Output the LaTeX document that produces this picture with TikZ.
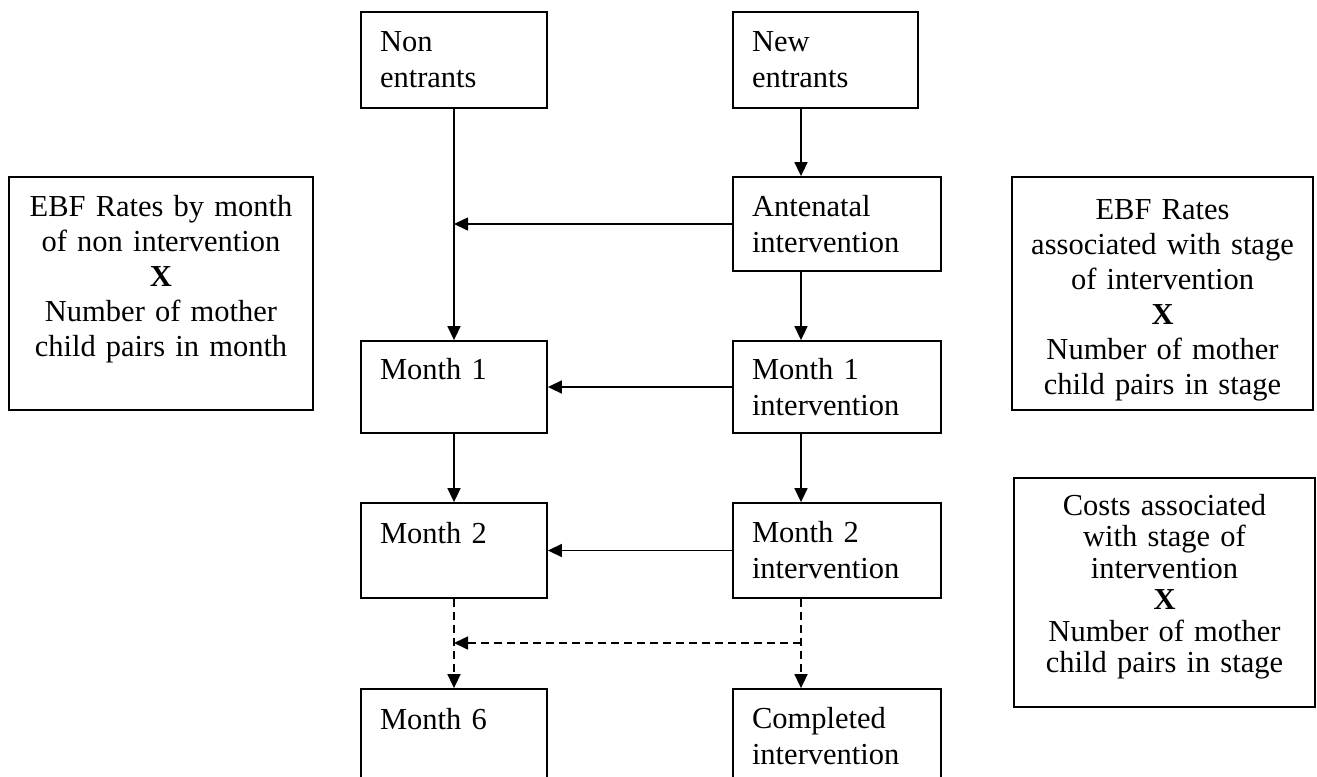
\documentclass[tikz,border=0pt]{standalone}
\usepackage{fontspec}
\setmainfont{Liberation Serif}
\usetikzlibrary{arrows.meta}
\begin{document}
\begin{tikzpicture}[x=1bp,y=-1bp,
  box/.style={draw, line width=1.8bp, inner ysep=0pt, inner xsep=19bp, align=left,
    font=\fontsize{30.5bp}{36bp}\selectfont},
  side/.style={draw, line width=1.8bp, inner sep=0pt, align=center, text width=290bp},
  arr/.style={line width=1.6bp, -{Triangle[length=14bp,width=13bp]}},
  dsh/.style={arr, dash pattern=on 8bp off 5bp}]
\fill[white] (0,0) rectangle (1317,776);
\useasboundingbox (0,0) rectangle (1317,776);

% left column
\node[box, text width=148bp, minimum height=96bp] (non) at (454,60) {Non\\entrants};
\node[box, text width=148bp, minimum height=92bp] (m1) at (454,387) {Month 1\\\mbox{}};
\node[box, text width=148bp, minimum height=95bp] (m2) at (454,550.5) {Month 2\\\mbox{}};
\node[box, text width=148bp, minimum height=95bp] (m6) at (454,736.5) {Month 6\\\mbox{}};

% right column
\node[box, text width=147bp, minimum height=96bp] (new) at (825.5,60) {New\\entrants};
\node[box, text width=170bp, minimum height=94bp] (ante) at (837,224) {Antenatal\\intervention};
\node[box, text width=170bp, minimum height=92bp] (m1i) at (837,387) {Month 1\\intervention};
\node[box, text width=170bp, minimum height=95bp] (m2i) at (837,550.5) {Month 2\\intervention};
\node[box, text width=170bp, minimum height=95bp] (comp) at (837,736.5) {Completed\\intervention};

% side boxes
\node[side, minimum width=304bp, minimum height=233bp, font=\fontsize{30.5bp}{35bp}\selectfont]
  (ebfl) at (161,293.5)
  {EBF Rates by month\\of non intervention\\\textbf{X}\\Number of mother\\child pairs in month\\\mbox{}};
\node[side, minimum width=301bp, minimum height=233bp, font=\fontsize{30.5bp}{35bp}\selectfont]
  (ebfr) at (1162.5,293.5)
  {\mbox{}\\[-2bp]EBF Rates\\associated with stage\\of intervention\\\textbf{X}\\Number of mother\\child pairs in stage};
\node[side, minimum width=301bp, minimum height=229bp, font=\fontsize{30.5bp}{31.5bp}\selectfont]
  (cost) at (1164.5,592.5)
  {Costs associated\\with stage of\\intervention\\\textbf{X}\\Number of mother\\child pairs in stage\\[-13.5bp]\mbox{}};

% connectors
\coordinate (xr) at (801,0);
\coordinate (j1) at (454,224);
\coordinate (j2) at (454,643);
\coordinate (j3) at (801,643);
\draw[arr] (non.south) -- (m1.north);
\draw[arr] (new.south -| xr) -- (ante.north -| xr);
\draw[arr] (ante.west) -- (j1);
\draw[arr] (ante.south -| xr) -- (m1i.north -| xr);
\draw[arr] (m1i.west) -- (m1.east);
\draw[arr] (m1.south) -- (m2.north);
\draw[arr] (m1i.south -| xr) -- (m2i.north -| xr);
\draw[arr] (m2i.west) -- (m2.east);
\draw[dsh] (m2.south) -- (m6.north);
\draw[dsh] (m2i.south -| xr) -- (comp.north -| xr);
\draw[dsh] (j3) -- (j2);
\end{tikzpicture}
\end{document}
